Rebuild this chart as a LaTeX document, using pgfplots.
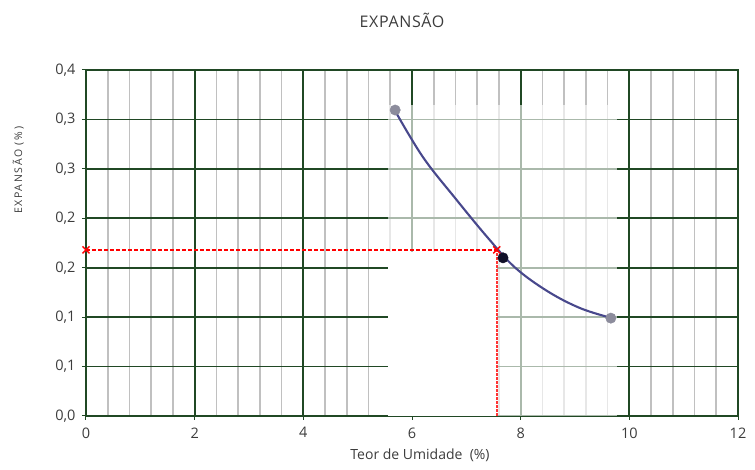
\documentclass[border=0pt]{standalone}
\usepackage{fontspec}
\setmainfont{Open Sans}
\newfontfamily\titlefont[LetterSpace=4]{Open Sans}
\newfontfamily\spaced[LetterSpace=16]{Open Sans}
\usepackage{pgfplots}
\pgfplotsset{compat=1.18}
\definecolor{gridgreen}{RGB}{32,72,36}
\definecolor{gridgray}{RGB}{192,192,192}
\definecolor{txt}{RGB}{60,60,60}
\definecolor{curve}{RGB}{72,72,140}
\definecolor{dotgray}{RGB}{140,140,156}
\definecolor{dotdark}{RGB}{16,16,40}

\begin{document}
\begin{tikzpicture}
\begin{axis}[
    scale only axis, width=652pt, height=346pt,
    xmin=0, xmax=12, ymin=0, ymax=0.35,
    xtick={0,2,4,6,8,10,12}, xticklabels={0,2,4,6,8,10,12},
    ytick={0,0.05,0.1,0.15,0.2,0.25,0.3,0.35},
    yticklabels={{0,0},{0,1},{0,1},{0,2},{0,2},{0,3},{0,3},{0,4}},
    minor x tick num=4,
    xmajorgrids, ymajorgrids, xminorgrids,
    major grid style={gridgreen, line width=1.8pt},
    minor grid style={gridgray, line width=1.6pt},
    axis line style={gridgreen, line width=1.8pt},
    tick style={gridgreen, line width=1pt},
    major tick length=4pt, minor tick length=0pt,
    tick align=outside, xtick pos=bottom, ytick pos=left,
    ticklabel style={font=\fontsize{14.5}{16}\selectfont, text=txt},
    yticklabel style={xshift=-3pt},
    xticklabel style={yshift=-4pt},
    clip mode=individual,
    title={\titlefont EXPANSÃO},
    title style={at={(axis description cs:0.5,1)}, anchor=center, yshift=44pt, xshift=-10pt,
        font=\fontsize{16}{18}\selectfont, text=txt},
    xlabel={Teor de Umidade\ \ (\%)},
    xlabel style={at={(axis description cs:0.5,0)}, anchor=center, yshift=-39pt, xshift=8pt,
        font=\fontsize{14}{16}\selectfont, text=txt},
    ylabel={\spaced EXPANSÃO (\%)},
    ylabel style={at={(axis description cs:-0.104,0.71)}, anchor=center,
        font=\fontsize{10.5}{12}\selectfont, text=txt},
]
% faded patch and blank patch of the source picture
\addplot[draw=none, fill=white, fill opacity=0.62] coordinates {(5.56,-0.01) (9.78,-0.01) (9.78,0.315) (5.56,0.315)};
\addplot[draw=none, fill=white] coordinates {(5.56,-0.01) (7.56,-0.01) (7.56,0.166) (5.56,0.166)};

% reading lines
\addplot[red, line width=1.2pt, dash pattern=on 4pt off 2pt] coordinates {(0,0.168) (7.56,0.168)};
\addplot[red!80!white, line width=2pt, dash pattern=on 2.5pt off 1.5pt] coordinates {(7.56,0) (7.56,0.168)};

% trend curve
\addplot[curve, line width=2.1pt, smooth, tension=0.6] coordinates {
    (5.68,0.3095) (6.2,0.262) (6.8,0.220) (7.4,0.180)
    (7.9,0.150) (8.5,0.126) (9.1,0.109) (9.68,0.099)
};

% measured points
\addplot[only marks, mark=*, mark size=5.2pt, dotgray, mark options={draw=dotgray, fill=dotgray}]
    coordinates {(5.69,0.3095) (9.66,0.099)};
\addplot[only marks, mark=*, mark size=5.2pt, dotdark, mark options={draw=dotdark, fill=dotdark}]
    coordinates {(7.675,0.160)};

\addplot[red, only marks, mark=x, mark size=5pt, line width=1.4pt]
    coordinates {(0,0.168) (7.56,0.168)};

\coordinate (SW) at (rel axis cs:0,0);
\coordinate (NE) at (rel axis cs:1,1);
\end{axis}
\pgfresetboundingbox
\path[use as bounding box] ([shift={(-86pt,-54pt)}]SW) rectangle ([shift={(17pt,70pt)}]NE);
\end{tikzpicture}
\end{document}
